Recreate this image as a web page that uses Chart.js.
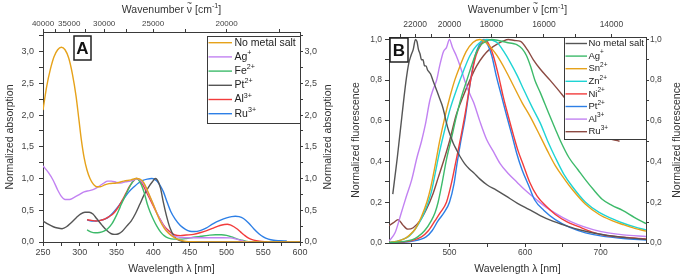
<!DOCTYPE html>
<html>
<head>
<meta charset="utf-8">
<script src="https://cdn.jsdelivr.net/npm/chart.js@4.4.0/dist/chart.umd.min.js"></script>
<style>
body { margin: 0; background: #fff; width: 685px; height: 280px; overflow: hidden; position: relative; }
canvas { position: absolute; top: 0; }
#chartA { left: 0; }
#chartB { left: 340px; }
</style>
</head>
<body>
<canvas id="chartA" width="340" height="280"></canvas>
<canvas id="chartB" width="345" height="280"></canvas>
<script>
//---------------- Panel A : absorption ----------------
const absNoSaltNm = [250, 255, 260, 265, 270, 275, 280, 285, 290, 295, 299, 302, 306, 310, 314, 318, 323, 328, 334, 340, 350, 360, 370, 377, 382, 387, 392, 396, 400, 405, 410, 415, 420, 425, 430, 437, 445, 455, 470, 600];
const absNoSalt = [2.08, 2.45, 2.72, 2.92, 3.03, 3.07, 3.03, 2.9, 2.65, 2.3, 1.92, 1.63, 1.33, 1.13, 1.0, 0.92, 0.87, 0.87, 0.9, 0.92, 0.93, 0.96, 0.98, 1.0, 0.99, 0.94, 0.82, 0.71, 0.6, 0.45, 0.32, 0.22, 0.15, 0.1, 0.06, 0.03, 0.01, 0.003, 0, 0];

const absAgNm = [250, 257, 264, 270, 275, 280, 286, 292, 300, 306, 313, 319, 324, 328, 333, 338, 343, 350, 356, 362, 369, 374, 378, 383, 388, 392, 396, 400, 405, 410, 415, 420, 425, 432, 440, 450, 465, 480, 495, 505, 512, 518, 524, 530];
const absAg = [1.2, 1.1, 0.97, 0.82, 0.72, 0.67, 0.67, 0.7, 0.75, 0.79, 0.81, 0.83, 0.86, 0.89, 0.93, 0.96, 0.96, 0.94, 0.93, 0.95, 0.96, 0.98, 1.0, 0.97, 0.9, 0.8, 0.7, 0.6, 0.46, 0.34, 0.24, 0.16, 0.11, 0.08, 0.07, 0.066, 0.066, 0.067, 0.068, 0.065, 0.05, 0.03, 0.01, 0];

const absFeNm = [310, 315, 321, 327, 333, 338, 344, 350, 355, 360, 365, 370, 374, 377, 380, 384, 388, 392, 396, 401, 405, 410, 415, 421, 428, 436, 445, 455, 465, 475, 485, 493, 500, 507, 514, 520, 526, 532];
const absFe = [0.19, 0.16, 0.145, 0.15, 0.17, 0.21, 0.29, 0.42, 0.55, 0.68, 0.8, 0.91, 0.98, 1.0, 0.98, 0.9, 0.77, 0.6, 0.47, 0.34, 0.25, 0.16, 0.1, 0.06, 0.045, 0.045, 0.055, 0.075, 0.09, 0.105, 0.115, 0.115, 0.105, 0.08, 0.05, 0.03, 0.012, 0];

const absPtNm = [250, 257, 264, 270, 276, 282, 288, 295, 301, 307, 313, 318, 323, 330, 337, 343, 348, 353, 358, 364, 370, 376, 382, 388, 394, 399, 403, 406, 410, 414, 418, 423, 428, 433, 440, 450, 600];
const absPt = [0.33, 0.28, 0.24, 0.22, 0.21, 0.24, 0.3, 0.38, 0.44, 0.47, 0.47, 0.44, 0.37, 0.27, 0.18, 0.13, 0.12, 0.13, 0.17, 0.25, 0.33, 0.45, 0.6, 0.75, 0.87, 0.95, 1.0, 0.97, 0.85, 0.62, 0.42, 0.22, 0.1, 0.04, 0.01, 0, 0];

const absAlNm = [310, 316, 322, 328, 334, 340, 346, 352, 358, 363, 368, 373, 377, 381, 386, 392, 398, 403, 409, 414, 419, 424, 430, 437, 445, 455, 465, 473, 482, 491, 497, 501, 505, 510, 515, 519, 524, 530, 537, 545, 555];
const absAl = [0.35, 0.34, 0.33, 0.34, 0.36, 0.4, 0.45, 0.54, 0.66, 0.77, 0.88, 0.96, 1.0, 0.98, 0.9, 0.76, 0.62, 0.5, 0.37, 0.27, 0.2, 0.15, 0.11, 0.1, 0.11, 0.12, 0.15, 0.18, 0.22, 0.26, 0.275, 0.28, 0.27, 0.24, 0.2, 0.16, 0.11, 0.06, 0.03, 0.012, 0];

const absRuNm = [310, 316, 322, 328, 334, 340, 346, 353, 360, 367, 374, 380, 386, 392, 398, 403, 406, 410, 414, 419, 424, 430, 437, 444, 450, 456, 464, 472, 482, 491, 500, 507, 512, 517, 523, 530, 537, 544, 550, 557, 564, 572, 582];
const absRu = [0.35, 0.33, 0.33, 0.34, 0.36, 0.4, 0.47, 0.57, 0.68, 0.79, 0.87, 0.93, 0.97, 0.99, 1.0, 0.98, 0.95, 0.88, 0.79, 0.63, 0.48, 0.36, 0.26, 0.2, 0.17, 0.165, 0.18, 0.22, 0.29, 0.34, 0.38, 0.4, 0.405, 0.4, 0.37, 0.3, 0.21, 0.13, 0.08, 0.045, 0.027, 0.02, 0.015];

const absNames = ['No metal salt', 'Ag', 'Fe', 'Pt', 'Al', 'Ru'];
const absCharges = ['', '+', '2+', '2+', '3+', '3+'];

const absXTicks = [250, 275, 300, 325, 350, 375, 400, 425, 450, 475, 500, 525, 550, 575, 600];
const absXLabels = [250, 300, 350, 400, 450, 500, 550, 600];
const absYTicks = [0, 0.25, 0.5, 0.75, 1, 1.25, 1.5, 1.75, 2, 2.25, 2.5, 2.75, 3, 3.25];
const absYLabels = [0, 0.5, 1, 1.5, 2, 2.5, 3];
const absTopTicks = [40000, 37500, 35000, 32500, 30000, 27500, 25000, 22500, 20000, 17500];
const absTopLabels = [40000, 35000, 30000, 25000, 20000];

//---------------- Panel B : fluorescence ----------------
const fluNoSaltNm = [425, 428, 431, 434, 437, 440, 443, 446, 449, 452, 455, 457, 459, 461, 463, 465, 467, 469, 471, 473, 475, 478, 481, 484, 487, 490, 493, 496, 499, 502, 505, 509, 514, 520, 526, 532, 540, 550, 562, 575, 590, 605, 620, 635, 650, 665, 680, 700, 720, 740, 760];
const fluNoSalt = [0.24, 0.33, 0.42, 0.52, 0.62, 0.72, 0.81, 0.88, 0.92, 0.95, 1.0, 0.99, 0.95, 0.93, 0.9, 0.9, 0.87, 0.87, 0.85, 0.84, 0.83, 0.8, 0.77, 0.74, 0.71, 0.68, 0.64, 0.59, 0.55, 0.52, 0.49, 0.46, 0.425, 0.39, 0.365, 0.345, 0.315, 0.285, 0.26, 0.23, 0.195, 0.165, 0.135, 0.11, 0.09, 0.072, 0.058, 0.043, 0.032, 0.024, 0.018];

const fluAgNm = [420, 430, 440, 450, 458, 467, 476, 481, 485, 490, 496, 503, 509, 516, 523, 530, 536, 542, 548, 556, 565, 576, 584, 589, 596, 602, 608, 613, 620, 631, 640, 647, 658, 670, 680, 691, 702, 715, 729, 745, 760];
const fluAg = [0.002, 0.004, 0.008, 0.015, 0.03, 0.06, 0.11, 0.15, 0.2, 0.29, 0.41, 0.52, 0.62, 0.72, 0.8, 0.88, 0.94, 0.975, 0.99, 1.0, 0.995, 0.985, 0.98, 0.975, 0.955, 0.92, 0.86, 0.8, 0.74, 0.64, 0.56, 0.5, 0.42, 0.36, 0.31, 0.26, 0.215, 0.185, 0.16, 0.125, 0.095];

const fluSnNm = [420, 430, 440, 446, 455, 463, 470, 475, 481, 487, 494, 500, 507, 514, 522, 531, 540, 548, 556, 563, 574, 585, 596, 607, 620, 630, 640, 651, 662, 680, 698, 715, 730, 745, 760];
const fluSn = [0.003, 0.008, 0.02, 0.035, 0.07, 0.13, 0.2, 0.27, 0.38, 0.5, 0.62, 0.71, 0.8, 0.87, 0.94, 0.985, 1.0, 0.985, 0.955, 0.92, 0.85, 0.77, 0.69, 0.62, 0.525, 0.45, 0.38, 0.32, 0.265, 0.19, 0.14, 0.11, 0.09, 0.072, 0.058];

const fluZnNm = [420, 430, 440, 447, 455, 463, 470, 476, 481, 487, 494, 501, 510, 518, 527, 536, 549, 563, 572, 580, 590, 598, 609, 620, 630, 640, 651, 662, 680, 698, 715, 730, 745, 760];
const fluZn = [0.003, 0.008, 0.02, 0.035, 0.07, 0.12, 0.18, 0.25, 0.34, 0.45, 0.56, 0.66, 0.76, 0.84, 0.92, 0.97, 1.0, 0.985, 0.94, 0.89, 0.82, 0.755, 0.67, 0.59, 0.5, 0.42, 0.34, 0.28, 0.2, 0.15, 0.12, 0.097, 0.079, 0.064];

const fluNiNm = [420, 440, 450, 463, 472, 481, 488, 496, 503, 509, 515, 521, 529, 535, 541, 547, 553, 558, 565, 571, 578, 585, 591, 598, 606, 616, 628, 640, 655, 671, 688, 706, 730, 760];
const fluNi = [0.003, 0.006, 0.012, 0.03, 0.06, 0.11, 0.15, 0.2, 0.3, 0.41, 0.52, 0.64, 0.82, 0.92, 0.97, 1.0, 0.97, 0.92, 0.82, 0.72, 0.62, 0.525, 0.45, 0.38, 0.3, 0.23, 0.18, 0.14, 0.105, 0.08, 0.055, 0.038, 0.028, 0.02];

const fluPtNm = [420, 440, 450, 469, 477, 485, 493, 500, 506, 510, 515, 521, 528, 534, 539, 545, 551, 556, 562, 569, 576, 583, 589, 596, 605, 613, 625, 640, 660, 680, 700, 730, 760];
const fluPt = [0.002, 0.004, 0.008, 0.03, 0.06, 0.11, 0.15, 0.2, 0.29, 0.39, 0.5, 0.62, 0.8, 0.92, 0.97, 1.0, 0.97, 0.92, 0.82, 0.72, 0.62, 0.525, 0.44, 0.36, 0.28, 0.21, 0.16, 0.115, 0.075, 0.05, 0.035, 0.022, 0.015];

const fluAlNm = [420, 428, 436, 443, 450, 457, 463, 468, 474, 478, 483, 487, 492, 496, 500, 504, 509, 514, 520, 526, 532, 540, 549, 558, 567, 578, 589, 600, 616, 630, 650, 670, 690, 710, 730, 760];
const fluAl = [0.01, 0.05, 0.145, 0.23, 0.31, 0.42, 0.5, 0.58, 0.7, 0.75, 0.8, 0.87, 0.94, 0.96, 1.0, 0.96, 0.92, 0.87, 0.8, 0.74, 0.69, 0.6, 0.51, 0.45, 0.39, 0.34, 0.3, 0.26, 0.21, 0.17, 0.125, 0.09, 0.066, 0.05, 0.04, 0.032];

const fluRuNm = [420, 426, 432, 438, 445, 452, 461, 470, 478, 485, 492, 500, 509, 518, 527, 536, 545, 554, 563, 570, 578, 586, 594, 603, 611, 620, 633, 651, 670, 690, 705, 725];
const fluRu = [0.085, 0.1, 0.115, 0.09, 0.068, 0.075, 0.11, 0.17, 0.24, 0.32, 0.4, 0.5, 0.63, 0.72, 0.8, 0.87, 0.92, 0.955, 0.977, 0.99, 1.0, 0.995, 0.99, 0.95, 0.9, 0.855, 0.8, 0.72, 0.63, 0.56, 0.52, 0.5];

const fluNames = ['No metal salt', 'Ag', 'Sn', 'Zn', 'Ni', 'Pt', 'Al', 'Ru'];
const fluCharges = ['', '+', '2+', '2+', '2+', '2+', '3+', '3+'];

const fluXTicks = [450, 500, 550, 600, 650, 700, 750];
const fluXLabels = [500, 600, 700];
const fluYTicks = [0, 0.1, 0.2, 0.3, 0.4, 0.5, 0.6, 0.7, 0.8, 0.9, 1.0];
const fluYLabels = [0, 0.2, 0.4, 0.6, 0.8, 1.0];
const fluTopTicks = [23000, 22000, 21000, 20000, 19000, 18000, 17000, 16000, 15000, 14000];
const fluTopLabels = [22000, 20000, 18000, 16000, 14000];

//---------------- styles ----------------
const FONT = '"Liberation Sans", Arial, sans-serif';
const FRAME = '#3a3a3a';
const TICKTXT = '#444';
const TXT = '#333';
const C_ORANGE = '#e6a21a';
const C_PURPLE = '#c282f2';
const C_GREEN = '#3dba6a';
const C_GRAY = '#555555';
const C_RED = '#f23c3c';
const C_BLUE = '#2d7fe6';
const C_CYAN = '#1fd4d4';
const C_BROWN = '#8c4a42';

//combine x and y arrays into points
function pts(xs, ys) {
	return xs.map(function (x, i) { return { x: x, y: ys[i] }; });
}

function series(label, xs, ys, color) {
	return { label: label, data: pts(xs, ys), borderColor: color, backgroundColor: color, borderWidth: 1.4, fill: false };
}

function inList(list, v) {
	return list.some(function (l) { return Math.abs(l - v) < 1e-6; });
}

function comma(v) {
	return v.toFixed(1).replace('.', ',');
}

//draw text made of normal, superscript and tilde-accented parts
function partSize(p, size) {
	return p.sup ? size * 0.68 : size;
}

function richWidth(ctx, parts, size) {
	var w = 0;
	parts.forEach(function (p) {
		ctx.font = partSize(p, size) + 'px ' + FONT;
		w += ctx.measureText(p.t).width;
	});
	return w;
}

function drawRich(ctx, parts, x, y, size, align) {
	var cx = align === 'center' ? x - richWidth(ctx, parts, size) / 2 : x;
	ctx.textBaseline = 'middle';
	ctx.textAlign = 'left';
	parts.forEach(function (p) {
		ctx.font = partSize(p, size) + 'px ' + FONT;
		var w = ctx.measureText(p.t).width;
		ctx.fillText(p.t, cx, p.sup ? y - size * 0.36 : y);
		if (p.tilde) {
			ctx.font = (size * 0.8) + 'px ' + FONT;
			ctx.textAlign = 'center';
			ctx.fillText('~', cx + w / 2, y - size * 0.62);
			ctx.textAlign = 'left';
		}
		cx += w;
	});
}

const topTitle = [{ t: 'Wavenumber ' }, { t: '\u03BD', tilde: true }, { t: ' [cm' }, { t: '-1', sup: true }, { t: ']' }];
const xTitle = [{ t: 'Wavelength \u03BB [nm]' }];

//titles, panel letter and boxed legend
const decorPlugin = {
	id: 'decor',
	afterDraw: function (chart, args, o) {
		var ctx = chart.ctx;
		var a = chart.chartArea;
		var cx = (a.left + a.right) / 2;
		var cy = (a.top + a.bottom) / 2;
		ctx.save();
		ctx.fillStyle = TXT;
		drawRich(ctx, xTitle, cx, o.bottomTitleY, o.titleSize, 'center');
		drawRich(ctx, topTitle, cx, o.topTitleY, o.titleSize, 'center');
		[o.leftTitleX, o.rightTitleX].forEach(function (tx) {
			ctx.save();
			ctx.translate(tx, cy);
			ctx.rotate(-Math.PI / 2);
			drawRich(ctx, [{ t: o.yTitle }], 0, 0, o.titleSize, 'center');
			ctx.restore();
		});

		//panel letter
		var b = o.letterBox;
		ctx.strokeStyle = '#222';
		ctx.lineWidth = 1.5;
		ctx.strokeRect(b.x, b.y, b.w, b.h);
		ctx.fillStyle = '#111';
		ctx.font = 'bold 17px ' + FONT;
		ctx.textAlign = 'center';
		ctx.textBaseline = 'middle';
		ctx.fillText(o.letter, b.x + b.w / 2, b.y + b.h / 2 + 1);

		//legend
		var lg = o.legend;
		ctx.fillStyle = '#fff';
		ctx.fillRect(lg.x, lg.y, lg.w, lg.h);
		ctx.strokeStyle = FRAME;
		ctx.lineWidth = 1;
		ctx.strokeRect(lg.x + 0.5, lg.y + 0.5, lg.w, lg.h);
		chart.data.datasets.forEach(function (ds, i) {
			var y = lg.row0 + i * lg.rowH;
			ctx.strokeStyle = ds.borderColor;
			ctx.lineWidth = 1.4;
			ctx.beginPath();
			ctx.moveTo(lg.lineX0, y);
			ctx.lineTo(lg.lineX1, y);
			ctx.stroke();
			ctx.fillStyle = '#222';
			drawRich(ctx, [{ t: o.names[i] }, { t: o.charges[i], sup: true }], lg.textX, y, lg.size, 'left');
		});
		ctx.restore();
	}
};

//build the four axes of one panel
function makeScales(c) {
	var font = { family: FONT, size: c.tickSize };
	var topFont = { family: FONT, size: c.topTickSize };
	var border = { display: true, color: FRAME, width: 1 };
	function grid(len) {
		return { drawOnChartArea: false, drawTicks: true, tickLength: len, color: FRAME, tickColor: FRAME, tickWidth: 1 };
	}
	function yAxis(pos, len, pad, w) {
		return {
			type: 'linear', position: pos, min: c.yMin, max: c.yMax,
			grid: grid(len), border: border,
			afterBuildTicks: function (s) { s.ticks = c.yTicks.map(function (v) { return { value: v }; }); },
			ticks: { font: font, color: TICKTXT, padding: pad, autoSkip: false,
				callback: function (v) { return inList(c.yLabels, v) ? comma(v) : ''; } },
			afterFit: function (s) { s.width = w; }
		};
	}
	return {
		x: {
			type: 'linear', position: 'bottom', min: c.xMin, max: c.xMax,
			grid: grid(4), border: border,
			afterBuildTicks: function (s) { s.ticks = c.xTicks.map(function (v) { return { value: v }; }); },
			ticks: { font: font, color: TICKTXT, padding: c.bottomPad, maxRotation: 0, autoSkip: false,
				callback: function (v) { return inList(c.xLabels, v) ? String(v) : ''; } },
			afterFit: function (s) { s.height = c.bottomH; }
		},
		xTop: {
			type: 'linear', position: 'top', min: c.xMin, max: c.xMax,
			grid: grid(3), border: border,
			afterBuildTicks: function (s) {
				s.ticks = c.topTicks.map(function (wn) { return { value: 1e7 / wn }; })
					.filter(function (t) { return t.value >= c.xMin - 1e-6 && t.value <= c.xMax + 1e-6; })
					.sort(function (p, q) { return p.value - q.value; });
			},
			ticks: { font: topFont, color: TICKTXT, padding: c.topPad, maxRotation: 0, autoSkip: false,
				callback: function (v) { var wn = Math.round(1e7 / v); return inList(c.topLabels, wn) ? String(wn) : ''; } },
			afterFit: function (s) { s.height = c.topH; }
		},
		y: yAxis('left', 4, c.leftPad, c.leftW),
		yRight: yAxis('right', 3, c.rightPad, c.rightW)
	};
}

function makeChart(canvasId, datasets, c, decor) {
	return new Chart(document.getElementById(canvasId), {
		type: 'line',
		data: { datasets: datasets },
		options: {
			responsive: false,
			animation: false,
			layout: { padding: 0 },
			elements: {
				point: { radius: 0 },
				line: { cubicInterpolationMode: 'monotone' }
			},
			plugins: {
				legend: { display: false },
				tooltip: { enabled: false },
				decor: decor
			},
			scales: makeScales(c)
		},
		plugins: [decorPlugin]
	});
}

//---------------- Panel A ----------------
makeChart('chartA', [
	series('No metal salt', absNoSaltNm, absNoSalt, C_ORANGE),
	series('Ag\u207A', absAgNm, absAg, C_PURPLE),
	series('Fe\u00B2\u207A', absFeNm, absFe, C_GREEN),
	series('Pt\u00B2\u207A', absPtNm, absPt, C_GRAY),
	series('Al\u00B3\u207A', absAlNm, absAl, C_RED),
	series('Ru\u00B3\u207A', absRuNm, absRu, C_BLUE)
], {
	xMin: 250, xMax: 600, yMin: 0, yMax: 3.31,
	xTicks: absXTicks, xLabels: absXLabels, yTicks: absYTicks, yLabels: absYLabels,
	topTicks: absTopTicks, topLabels: absTopLabels,
	tickSize: 9, topTickSize: 8, leftW: 43, rightW: 40, topH: 32, bottomH: 38,
	bottomPad: 1, topPad: 0.5, leftPad: 5, rightPad: 1.5
}, {
	yTitle: 'Normalized absorption', titleSize: 10.5,
	bottomTitleY: 269.5, topTitleY: 10, leftTitleX: 10, rightTitleX: 328,
	letter: 'A', letterBox: { x: 74, y: 36, w: 17, h: 24 },
	names: absNames, charges: absCharges,
	legend: { x: 207, y: 36, w: 93, h: 87, row0: 42.7, rowH: 14.2, lineX0: 208.5, lineX1: 232, textX: 234.5, size: 10.5 }
});

//---------------- Panel B ----------------
makeChart('chartB', [
	series('No metal salt', fluNoSaltNm, fluNoSalt, C_GRAY),
	series('Ag\u207A', fluAgNm, fluAg, C_GREEN),
	series('Sn\u00B2\u207A', fluSnNm, fluSn, C_ORANGE),
	series('Zn\u00B2\u207A', fluZnNm, fluZn, C_CYAN),
	series('Ni\u00B2\u207A', fluNiNm, fluNi, C_RED),
	series('Pt\u00B2\u207A', fluPtNm, fluPt, C_BLUE),
	series('Al\u00B3\u207A', fluAlNm, fluAl, C_PURPLE),
	series('Ru\u00B3\u207A', fluRuNm, fluRu, C_BROWN)
], {
	xMin: 420, xMax: 760, yMin: 0, yMax: 1.012,
	xTicks: fluXTicks, xLabels: fluXLabels, yTicks: fluYTicks, yLabels: fluYLabels,
	topTicks: fluTopTicks, topLabels: fluTopLabels,
	tickSize: 8.5, topTickSize: 8.5, leftW: 49, rightW: 39, topH: 37, bottomH: 37,
	bottomPad: 1, topPad: 4, leftPad: 3, rightPad: 1
}, {
	yTitle: 'Normalized fluorescence', titleSize: 10.5,
	bottomTitleY: 269.5, topTitleY: 10.5, leftTitleX: 16, rightTitleX: 337,
	letter: 'B', letterBox: { x: 50, y: 38, w: 18, h: 24 },
	names: fluNames, charges: fluCharges,
	legend: { x: 224, y: 37, w: 82, h: 102, row0: 43.5, rowH: 12.6, lineX0: 225.5, lineX1: 247, textX: 248.5, size: 9.5 }
});
</script>
</body>
</html>
